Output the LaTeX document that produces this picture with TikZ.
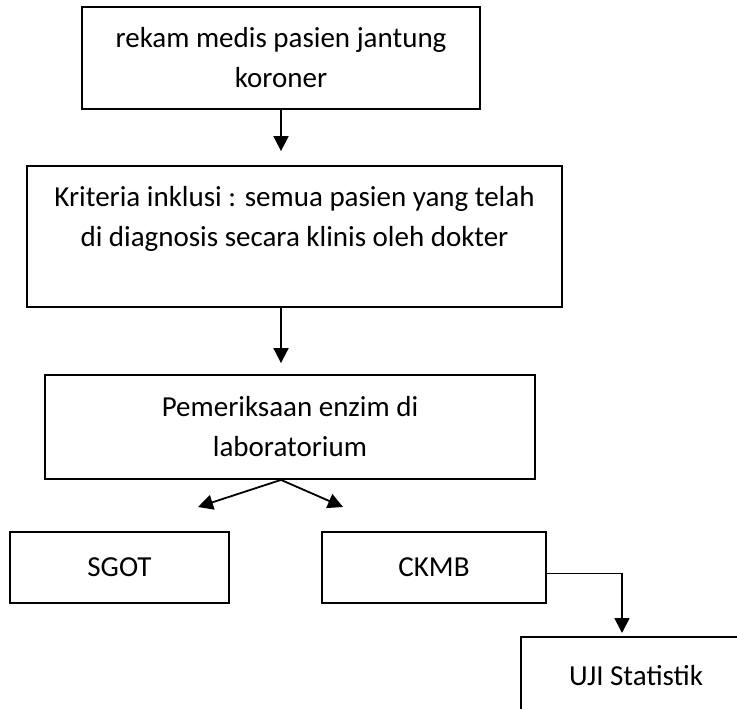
\documentclass[tikz,border=0pt]{standalone}
\usepackage{fontspec}
\setmainfont{Carlito}
\usetikzlibrary{arrows.meta, calc}
\tikzset{
  flowbox/.style={rectangle, draw=black, line width=1.8pt, align=center,
    font=\fontsize{29}{40}\selectfont, inner sep=0pt},
  arrow/.style={-{Triangle[length=15pt, width=15pt]}, line width=1.8pt}
}

\begin{document}
\begin{tikzpicture}[x=1pt, y=-1pt]
  \useasboundingbox (0,0) rectangle (737,709);
  \clip (0,0) rectangle (737,709);

  % Sumber data
  \node[flowbox, minimum width=398pt, minimum height=102pt] (rekam) at (281,58)
    {rekam medis pasien jantung\\koroner};

  % Kriteria inklusi
  \node[flowbox, minimum width=535pt, minimum height=141pt] (kriteria) at (294.5,236.5)
    {Kriteria inklusi : semua pasien yang telah\\di diagnosis secara klinis oleh dokter\\\mbox{}};

  % Pemeriksaan lab
  \node[flowbox, minimum width=490pt, minimum height=104pt] (lab) at (290,427)
    {Pemeriksaan enzim di\\laboratorium};

  % Enzim
  \node[flowbox, minimum width=219pt, minimum height=71pt] (sgot) at (119.5,567.5) {SGOT};
  \node[flowbox, minimum width=224pt, minimum height=71pt] (ckmb) at (434,567.5) {CKMB};

  % Uji statistik
  \node[flowbox, minimum width=230pt, minimum height=78pt] (uji) at (636,676) {UJI Statistik};

  % Panah
  \draw[arrow, shorten >=14pt] (rekam.south) -- (rekam.south |- kriteria.north);
  \draw[arrow, shorten >=11pt] (rekam.south |- kriteria.south) -- (rekam.south |- lab.north);
  \coordinate (fanL) at (198,507);
  \coordinate (fanR) at (343,507);
  \draw[arrow] (rekam.south |- lab.south) -- (fanL);
  \draw[arrow] (rekam.south |- lab.south) -- (fanR);
  \coordinate (ujiin) at (622,633);
  \draw[arrow] ([yshift=-6pt]ckmb.east) -| (ujiin);
\end{tikzpicture}
\end{document}
